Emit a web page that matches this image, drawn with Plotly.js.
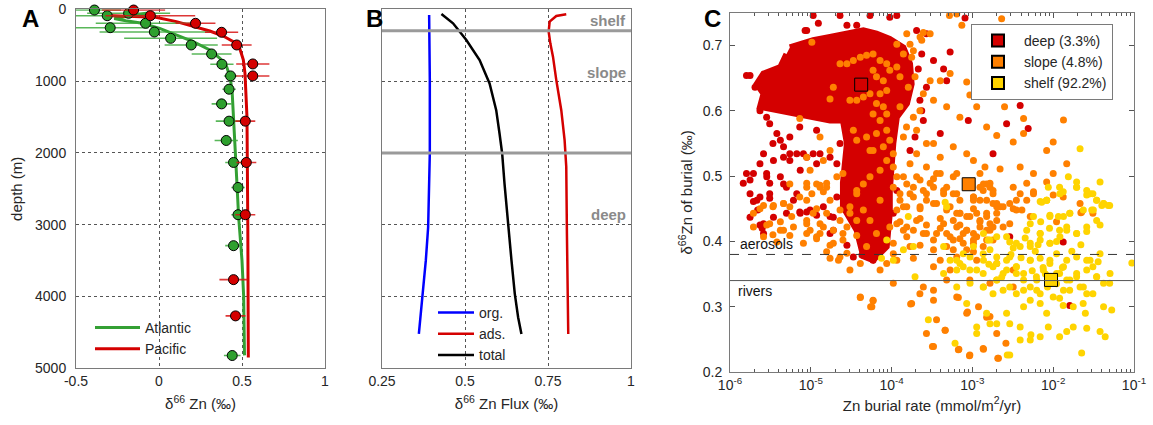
<!DOCTYPE html>
<html><head><meta charset="utf-8">
<script src="https://cdn.plot.ly/plotly-3.0.1.min.js"></script>
<style>html,body{margin:0;padding:0;background:#fff}#chart{width:1153px;height:425px}</style>
</head><body><div id="chart"></div>
<script>
// ---------- Panel A : observations ----------
const atlDepth = [10,56,89,195,256,316,404,497,622,765,928,1113,1317,1558,1827,2133,2481,2861,3292,4822];
const atlD66   = [-0.389,-0.183,-0.312,-0.081,-0.294,-0.028,0.07,0.194,0.317,0.379,0.431,0.422,0.377,0.422,0.405,0.449,0.476,0.476,0.449,0.441];
const atlErr   = [0.16,0.25,0.3,0.3,0.23,0.33,0.28,0.16,0.12,0.07,0.04,0.04,0.06,0.08,0.07,0.05,0.04,0.04,0.05,0.05];
const pacDepth = [10,89,195,320,497,761,928,1558,2133,2861,3765,4270];
const pacD66   = [-0.153,-0.052,0.22,0.377,0.468,0.565,0.565,0.52,0.526,0.52,0.449,0.461];
const pacErr   = [0.19,0.27,0.12,0.1,0.09,0.1,0.1,0.06,0.06,0.06,0.085,0.06];
// Panel A : model profiles
const atlModelDepth = [45,130,160,195,265,358,450,566,682,798,937,1122,1500,2000,2900,3500,4000,4820];
const atlModelD66   = [-0.05,-0.27,-0.2,-0.1,0.004,0.105,0.206,0.306,0.367,0.407,0.427,0.44,0.45,0.46,0.48,0.50,0.51,0.515];
const pacModelDepth = [85,112,172,232,302,372,450,557,705,891,1122,1500,3000,4850];
const pacModelD66   = [-0.32,-0.02,0.105,0.206,0.306,0.387,0.448,0.488,0.508,0.518,0.524,0.53,0.535,0.538];

// ---------- Panel B : flux composition ----------
const orgDepth = [79,986,2009,2381,3033,3498,3963,4521];
const orgD66   = [0.392,0.394,0.394,0.392,0.389,0.382,0.373,0.361];
const adsDepth = [70,93,172,312,474,660,986,1405,1823,2195,3126,3823,4521];
const adsD66   = [0.805,0.775,0.755,0.752,0.757,0.765,0.775,0.79,0.80,0.805,0.807,0.809,0.811];
const totDepth = [65,195,428,707,1033,1405,1730,2009,2428,3033,3498,3963,4288,4521];
const totD66   = [0.429,0.464,0.504,0.544,0.574,0.594,0.604,0.612,0.619,0.630,0.640,0.650,0.660,0.670];
const zoneBounds = [300, 2000];
const zoneNames  = ["shelf","slope","deep"];
const zoneLabelDepth = [158, 884, 2860];

// ---------- Panel C : burial ----------
const deepCoreRate = [5.5e-6,1.07e-5,1.73e-5,3.05e-5,4.47e-5,6.5e-5,9.5e-5,1.4e-4,1.69e-4,1.77e-4,1.55e-4,1.16e-4,1.05e-4,9.5e-5,9.5e-5,8.7e-5,5.9e-5,4.47e-5,3.7e-5,2.5e-5,2.5e-5,2.8e-5,2.5e-5,1.73e-5,1.07e-5,6.7e-6,3.4e-6,2.35e-6,2.6e-6,2.14e-6,2.6e-6,4.2e-6,5.0e-6];
const deepCoreD66  = [0.697,0.708,0.713,0.718,0.723,0.718,0.710,0.697,0.672,0.641,0.611,0.590,0.550,0.478,0.443,0.392,0.371,0.377,0.417,0.453,0.49,0.550,0.585,0.585,0.590,0.593,0.6006,0.606,0.626,0.641,0.657,0.667,0.687];
const deepPts = [[1.07e-5,0.746],[1.24e-5,0.734],[8.9e-6,0.723],[2.3e-5,0.746],[2.8e-5,0.731],[3.7e-5,0.731],[5.4e-5,0.746],[9.5e-5,0.743],[2.04e-4,0.723],[2.7e-4,0.718],[2.36e-4,0.687],[2.14e-4,0.664],[2.7e-4,0.636],[2.24e-4,0.616],[2.47e-4,0.585],[1.95e-4,0.560],[1.69e-4,0.539],[2.36e-4,0.600],[1.77e-6,0.654],[1.6e-6,0.654],[2.04e-6,0.636],[2.35e-6,0.600],[2.84e-6,0.590],[3.1e-6,0.580],[3.8e-6,0.565],[4.2e-6,0.555],[3.4e-6,0.550],[4.6e-6,0.545],[6.7e-6,0.534],[8.1e-6,0.534],[1.07e-5,0.534],[1.3e-5,0.534],[1.73e-5,0.529],[4.6e-6,0.529],[5.5e-6,0.524],[2.6e-6,0.534],[2.35e-6,0.519],[1.95e-6,0.504],[1.77e-6,0.494],[1.46e-6,0.489],[2.84e-6,0.504],[3.1e-6,0.489],[4.2e-6,0.499],[7.3e-6,0.575],[1.18e-5,0.570],[5.5e-6,0.560],[2.3e-5,0.550],[2.1e-5,0.519],[1.77e-6,0.473],[2.2e-6,0.448],[2.35e-6,0.468],[1.95e-6,0.461],[3.1e-6,0.466],[2.6e-6,0.427],[2.5e-6,0.420],[5.0e-6,0.483],[6.7e-6,0.473],[7.3e-6,0.445],[8.9e-6,0.445],[1.18e-5,0.440],[1.73e-5,0.438],[1.9e-5,0.417],[1.73e-5,0.412],[2.8e-5,0.394],[3.36e-5,0.376],[5.4e-5,0.392],[4.3e-5,0.379],[5.9e-5,0.371],[1.16e-4,0.478],[1.05e-4,0.443],[7.9e-5,0.399],[4.9e-5,0.405],[8.5e-6,0.723],[3.3e-4,0.677],[5.3e-4,0.690],[4.4e-4,0.664],[4.8e-4,0.646],[3.9e-3,0.608],[2.65e-3,0.580],[4.9e-3,0.573],[8.9e-4,0.585],[1.8e-3,0.534],[4e-4,0.565],[8.1e-4,0.742],[1.16e-4,0.746],[1.33e-2,0.399],[2.9e-3,0.407],[1.6e-2,0.302],
[1.6e-6,0.504],[2.85e-6,0.499],[3.1e-6,0.473],[2.15e-6,0.463],[1.77e-6,0.437],[3.45e-6,0.437],[5e-6,0.443],[7.4e-6,0.443],[9.8e-6,0.448],[6.1e-6,0.463],[4.6e-6,0.488],[7.4e-6,0.509],[1.18e-5,0.519],[3.45e-6,0.524],[5.5e-6,0.534],[8.9e-6,0.529],[2.6e-6,0.412],[2.35e-6,0.425],[1.43e-5,0.453],[2.1e-5,0.468],[1.9e-5,0.437]];
const slopePts = [[2.3e-5,0.672],[2.8e-5,0.672],[3.36e-5,0.677],[4.1e-5,0.682],[4.9e-5,0.685],[5.9e-5,0.687],[7.2e-5,0.677],[8.7e-5,0.672],[9.5e-5,0.662],[1.16e-4,0.667],[1.27e-4,0.652],[5.9e-5,0.662],[6.5e-5,0.652],[7.9e-5,0.646],[8.7e-5,0.631],[7.2e-5,0.626],[5.4e-5,0.626],[4.47e-5,0.621],[3.7e-5,0.616],[3.05e-5,0.616],[6.5e-5,0.611],[7.9e-5,0.606],[8.7e-5,0.595],[5.9e-5,0.595],[7.2e-5,0.585],[8.7e-5,0.570],[6.5e-5,0.565],[4.9e-5,0.560],[9.5e-5,0.555],[7.9e-5,0.545],[5.9e-5,0.539],[1.05e-4,0.534],[8.7e-5,0.524],[7.2e-5,0.509],[5.4e-5,0.499],[4.47e-5,0.488],[3.7e-5,0.478],[1.05e-4,0.514],[1.16e-4,0.499],[1.9e-5,0.636],[1.73e-5,0.618],[3.36e-5,0.570],[3.7e-5,0.555],[5.4e-5,0.539],[1.16e-4,0.702],[1.4e-4,0.687],[1.69e-4,0.702],[2.36e-4,0.708],[2.47e-4,0.720],[1.77e-4,0.682],[1.95e-4,0.652],[1.61e-4,0.636],[2.47e-4,0.626],[2.24e-4,0.600],[1.86e-4,0.590],[1.53e-4,0.575],[2.04e-4,0.570],[1.4e-4,0.560],[2.7e-4,0.550],[2.04e-4,0.534],[1.69e-4,0.519],[1.4e-4,0.499],[2.04e-4,0.499],[2.7e-4,0.514],[1.27e-4,0.606],[1.03e-5,0.705],[7.3e-6,0.588],[8.9e-6,0.529],[1.3e-5,0.560],[1.43e-5,0.524],[1.73e-5,0.539],[2.1e-5,0.499],[2.5e-5,0.504],[1.18e-5,0.488],[1.57e-5,0.483],[5.5e-6,0.488],[9.8e-6,0.509],
[1.95e-6,0.443],[2.6e-6,0.455],[3.4e-6,0.453],[4.6e-6,0.458],[3.1e-6,0.427],[4.2e-6,0.417],[3.4e-6,0.410],[5.8e-6,0.438],[8.9e-6,0.427],[9.8e-6,0.417],[1.18e-5,0.407],[1.43e-5,0.422],[1.07e-5,0.443],[1.73e-5,0.463],[1.3e-5,0.483],[8.9e-6,0.489],[7.3e-6,0.468],[1.9e-5,0.397],[2.5e-5,0.412],[1.73e-5,0.374],[2.2e-5,0.371],[2.8e-5,0.382],[3.05e-5,0.356],[4.1e-5,0.366],[4.1e-5,0.315],[5.9e-5,0.310],[5.7e-5,0.300],[7.2e-5,0.356],[8.7e-5,0.366],[1.16e-4,0.371],[1.05e-4,0.336],[1.77e-4,0.305],[2.47e-4,0.330],[2.24e-4,0.320],[1.69e-4,0.392],[1.4e-4,0.417],[1.16e-4,0.427],[2.04e-4,0.432],[2.47e-4,0.412],[2.7e-4,0.463],[1.69e-4,0.473],[1.4e-4,0.453],[7.2e-5,0.463],[5.4e-5,0.432],[6.5e-5,0.412],[4.47e-5,0.448],[3.05e-5,0.443],[3.7e-5,0.473],[2.3e-5,0.432],[1.57e-5,0.489],[3e-4,0.489],[2.47e-4,0.478],
[3.3e-4,0.483],[4.4e-4,0.473],[3.6e-4,0.458],[5.3e-4,0.453],[7e-4,0.443],[9.3e-4,0.438],[1.24e-3,0.432],[1.65e-3,0.427],[2e-3,0.443],[1.8e-3,0.458],[2.4e-3,0.453],[1.24e-3,0.463],[1.03e-3,0.468],[1.36e-3,0.478],[1.65e-3,0.489],[4.4e-4,0.427],[3.6e-4,0.412],[5.3e-4,0.407],[7.7e-4,0.412],[1.03e-3,0.402],[1.36e-3,0.392],[8.5e-4,0.387],[6.4e-4,0.376],[4e-4,0.371],[3.3e-4,0.361],[5.3e-4,0.356],[1.13e-3,0.371],[2e-3,0.366],[3.2e-3,0.356],[1.65e-3,0.336],[9.3e-4,0.341],[4.8e-4,0.341],[3.3e-4,0.325],[3.6e-4,0.280],[6.4e-4,0.315],[8.5e-4,0.290],[1.65e-3,0.285],[3.2e-3,0.330],[2e-3,0.259],[1.36e-3,0.236],[9.3e-4,0.226],[6.7e-4,0.234],[3.3e-4,0.239],[4.6e-4,0.264],[2.1e-3,0.221],[2.6e-3,0.244],[3.9e-3,0.473],[4.7e-3,0.489],[5.7e-3,0.476],[1e-2,0.471],[1.33e-2,0.468],[2.25e-2,0.445],[3.1e-2,0.443],[3.2e-3,0.450],[2.9e-3,0.427],[4.1e-3,0.448],
[5.2e-4,0.746],[6.4e-4,0.748],[7.4e-4,0.731],[2.3e-3,0.741],[1.54e-4,0.718],[2.25e-4,0.713],[3e-4,0.718],[1.86e-4,0.692],[3e-4,0.646],[4e-4,0.646],[5.3e-4,0.657],[8.5e-4,0.644],[1.19e-3,0.631],[1.37e-3,0.626],[9.3e-4,0.624],[3.3e-4,0.616],[4.8e-4,0.606],[7e-4,0.590],[1.13e-3,0.606],[1.5e-3,0.575],[2.8e-3,0.626],[2.5e-3,0.606],[4.3e-3,0.588],[1.34e-2,0.586],[2e-3,0.562],[3.2e-3,0.552],[4.3e-3,0.565],[1e-2,0.552],[8.3e-3,0.539],[1.47e-2,0.519],[1e-2,0.504],[8.3e-3,0.491],[5.7e-3,0.504],[3.9e-3,0.514],[2.2e-3,0.511],[1.43e-3,0.514],[8.5e-4,0.534],[5.8e-4,0.545],[4e-4,0.529],[3.3e-4,0.550],[3.6e-4,0.504],[4.8e-4,0.483],[6.4e-4,0.504],[1.03e-3,0.524],[1.37e-3,0.488],[1.8e-3,0.473],[3.2e-3,0.483],[5.7e-3,0.473],[1.03e-3,0.463],[2.2e-3,0.453],[3.5e-3,0.463],[2.15e-2,0.458],[1.86e-4,0.483],[1.27e-4,0.473],[2.25e-4,0.453],
[4.1e-5,0.314],[5.9e-5,0.309],[5.5e-5,0.300],[1.72e-4,0.304],[2.7e-4,0.259],[3.2e-4,0.239],[4.6e-4,0.264],[6.8e-4,0.235],[9.2e-4,0.225],[1.37e-3,0.235],[2.06e-3,0.221],[1.5e-3,0.284],[8.7e-4,0.292],[6.7e-4,0.314],[3.3e-4,0.310],[1.19e-3,0.300]];
const slopeBandPts = [[1.3e-5,0.486],[8.9e-6,0.483],[1.43e-5,0.476],[1.03e-5,0.473],[1.05e-4,0.483],[1.54e-4,0.488],[2.25e-4,0.494],[3.3e-4,0.496],[4e-4,0.504],[5.8e-4,0.499],[1.24e-3,0.504],[1.5e-3,0.488],[1.8e-3,0.478],[1.03e-3,0.468],[6.4e-4,0.473],[4.4e-4,0.478],[2.7e-4,0.473],[1.86e-4,0.468],[1.27e-4,0.463],
[2.35e-6,0.450],[3.45e-6,0.455],[4.6e-6,0.458],[5.5e-6,0.453],[8.9e-6,0.463],[1.18e-5,0.450],[1.57e-5,0.443],[2.3e-5,0.448],[3.05e-5,0.453],[1.16e-4,0.448],[1.54e-4,0.453],[2.25e-4,0.450],[3.3e-4,0.458],[4.8e-4,0.448],[7e-4,0.443],[1.03e-3,0.450],[1.5e-3,0.443],[2e-3,0.453],
[1.95e-6,0.422],[2.85e-6,0.425],[4.2e-6,0.430],[6.1e-6,0.422],[8.9e-6,0.432],[1.3e-5,0.427],[1.9e-5,0.417],[2.8e-5,0.422],[3.7e-5,0.432],[9.5e-5,0.422],[1.27e-4,0.430],[1.86e-4,0.417],[2.7e-4,0.425],[4e-4,0.420],[5.8e-4,0.432],[8.5e-4,0.417],[1.24e-3,0.430],[1.8e-3,0.422],
[2.6e-6,0.407],[3.8e-6,0.399],[5.5e-6,0.409],[8.1e-6,0.397],[1.18e-5,0.404],[1.73e-5,0.394],[2.5e-5,0.402],[3.7e-5,0.409],[4.9e-5,0.392],[1.05e-4,0.397],[1.54e-4,0.407],[2.25e-4,0.394],[3.3e-4,0.402],[4.8e-4,0.392],[7e-4,0.404],[1.03e-3,0.397],[1.5e-3,0.402],
[1.57e-5,0.384],[2.3e-5,0.376],[1.05e-4,0.381],[1.86e-4,0.374],[4.8e-4,0.412],[2.7e-4,0.412],[1.54e-4,0.422],[1.03e-3,0.412],[7e-4,0.425],[4e-4,0.435],[2.25e-4,0.435],[1.5e-3,0.417],[3.3e-4,0.387],[5.8e-4,0.387],[1.03e-3,0.384],[8.9e-6,0.412],[1.3e-5,0.412],[4.6e-6,0.417],
[5.8e-4,0.473],[7e-4,0.463],[6.4e-4,0.443],[8.5e-4,0.438],[1.13e-3,0.443],[1.5e-3,0.438],[2e-3,0.432],[6.4e-4,0.422],[8.5e-4,0.417],[1.24e-3,0.422],[1.65e-3,0.417],[2.4e-3,0.422],[5.8e-4,0.402],[7.7e-4,0.397],[1.13e-3,0.407],[1.8e-3,0.402],[1.5e-3,0.463],[2e-3,0.458],[2.9e-3,0.458],[3.5e-3,0.448],[1.24e-3,0.483],[1.65e-3,0.483],[4.7e-3,0.463],[5.2e-3,0.438],[1.1e-2,0.43],[2.2e-2,0.444]];
const shelfPts = [[8.7e-3,0.483],[1.33e-2,0.476],[1.95e-2,0.483],[2.6e-2,0.471],[3.45e-2,0.463],[4e-2,0.455],[5e-2,0.455],[3e-2,0.448],[1.6e-2,0.443],[1.16e-2,0.438],[9.1e-3,0.440],[6.9e-3,0.461],[8.3e-3,0.463],[5.2e-3,0.427],[6.9e-3,0.412],[9.1e-3,0.397],[1.2e-2,0.417],[1.47e-2,0.422],[1.95e-2,0.412],[2.6e-2,0.415],[3.8e-2,0.425],[5.2e-3,0.397],[3.9e-3,0.392],[2.9e-3,0.399],[2e-3,0.407],[1.57e-3,0.402],[1.36e-3,0.381],[2e-3,0.376],[2.65e-3,0.371],[3.5e-3,0.361],[5.2e-3,0.371],[6.9e-3,0.374],[9.1e-3,0.371],[1.1e-2,0.381],[1.47e-2,0.371],[1.95e-2,0.376],[2.6e-2,0.371],[3.6e-2,0.369],[3.8e-2,0.381],[3.1e-2,0.361],[1.95e-2,0.346],[2.6e-2,0.356],[1.47e-2,0.341],[1.2e-2,0.351],[6.2e-3,0.346],[4.3e-3,0.341],[3.5e-3,0.351],[2.65e-3,0.356],[1.8e-3,0.361],[1.36e-3,0.351],[9.3e-4,0.356],[7e-4,0.366],[5.3e-4,0.371],[4.4e-4,0.392],[7.7e-4,0.381],[1.03e-3,0.392],[6.4e-4,0.356],[4.4e-4,0.351],[2e-3,0.341],[1.36e-3,0.330],[1.8e-3,0.320],[2.4e-3,0.325],[3.5e-3,0.320],[5.2e-3,0.330],[6.9e-3,0.320],[5.2e-3,0.310],[4.3e-3,0.300],[6.9e-3,0.305],[1e-2,0.315],[1.2e-2,0.313],[1.6e-2,0.325],[2.15e-2,0.330],[2.6e-2,0.320],[2.35e-2,0.305],[1.77e-2,0.300],[1.33e-2,0.302],[3.1e-2,0.320],[4.2e-2,0.300],[5.3e-2,0.295],[5e-2,0.336],[3.45e-2,0.346],[2.5e-2,0.290],[1.77e-2,0.269],[2.6e-2,0.267],[3.8e-2,0.262],[4.4e-2,0.254],[2.25e-2,0.229],[1.47e-2,0.262],[1.2e-2,0.254],[8.3e-3,0.290],[8.7e-3,0.269],[6.9e-3,0.254],[5.2e-3,0.249],[3.9e-3,0.269],[2.9e-3,0.274],[2e-3,0.274],[1.65e-3,0.274],[1.5e-3,0.290],[1.13e-3,0.269],[1.13e-3,0.259],[8.5e-4,0.305],[6.1e-4,0.244],[2.65e-3,0.290],[2.7e-3,0.226],[2.9e-3,0.226],[3.9e-3,0.249],[5.3e-3,0.257],
[7.5e-5,0.374],[1.05e-4,0.371],[1.4e-4,0.387],[1.86e-4,0.392],[1.61e-4,0.438],[1.95e-4,0.346],[2.85e-4,0.280],[8.7e-5,0.402],
[2.15e-2,0.542],[1.54e-2,0.499],[1.95e-2,0.491],[3.8e-2,0.491],[1.2e-2,0.483],[2.6e-2,0.478],[3.1e-2,0.473],[3.45e-2,0.463],[4.2e-2,0.458],[4.8e-2,0.455],[8.3e-3,0.463],[7.2e-3,0.460],[4.6e-4,0.460],[4.8e-4,0.453],[5.7e-3,0.438],[9.4e-2,0.367],
[3e-3,0.38],[4e-3,0.375],[6e-3,0.385],[7.5e-3,0.36],[8e-3,0.35],[1e-2,0.345],[1.1e-2,0.335],[8.5e-3,0.33],[5.5e-3,0.355],[2.3e-3,0.345],[1.6e-3,0.365],[3.2e-3,0.39],[4.5e-3,0.405],[6.5e-3,0.395],[1.3e-2,0.36],[1.7e-2,0.385],[2.2e-2,0.395],[9e-3,0.42],[1.1e-2,0.4],[7e-3,0.43]];
const shelfBandPts = [[6.4e-4,0.371],[7.7e-4,0.361],[9.35e-4,0.376],[1.13e-3,0.356],[1.37e-3,0.371],[1.65e-3,0.387],[2e-3,0.366],[2.4e-3,0.351],[2.9e-3,0.376],[3.5e-3,0.361],[4.3e-3,0.351],[5.2e-3,0.371],[6.25e-3,0.341],[7.55e-3,0.356],[9.1e-3,0.366],[1.1e-2,0.351],[1.34e-2,0.361],[1.61e-2,0.341],[1.95e-2,0.351],[6.4e-4,0.330],[9.35e-4,0.336],[1.37e-3,0.330],[2e-3,0.341],[2.9e-3,0.330],[4.3e-3,0.325],[6.25e-3,0.325],[1.34e-2,0.325],[2.36e-2,0.330],[2.86e-2,0.371],[3.45e-2,0.346],[4.2e-2,0.336],[5.05e-2,0.351],[3.5e-3,0.397],[5.2e-3,0.392],[6.9e-3,0.402],[9.1e-3,0.397],[1.21e-2,0.407],[1.47e-2,0.417],[1.95e-2,0.412],[2.6e-2,0.422],[3.45e-2,0.432],[9.1e-3,0.438],[1.34e-2,0.438],[1.61e-2,0.443],[2.36e-2,0.448],[3.14e-2,0.448],[4.2e-2,0.458],[2.86e-2,0.473],[1.95e-2,0.483],[1.21e-2,0.473],[8.3e-3,0.463],[6.9e-3,0.412],[4.7e-3,0.417],[2.65e-3,0.407],[1.65e-3,0.402],[1.37e-3,0.412]];
const meanRate = [4.2e-5, 9.0e-4, 9.4e-3];
const meanD66  = [0.640, 0.4875, 0.341];
const envNames = ["deep (3.3%)", "slope (4.8%)", "shelf (92.2%)"];
const envColors = ["#d40000", "#ff8000", "#ffd400"];
const refLevels = [0.38, 0.34];
const refNames = ["aerosols", "rivers"];
const rateTicks = [1e-6,1e-5,1e-4,1e-3,1e-2,1e-1];
const rateTickText = ["10<sup>-6</sup>","10<sup>-5</sup>","10<sup>-4</sup>","10<sup>-3</sup>","10<sup>-2</sup>","10<sup>-1</sup>"];

// ---------- build ----------
const FONT = "Liberation Sans, Arial, sans-serif";
const GREEN = "rgb(52,160,52)", RED = "#d40000";
const px = a => a.map(p => p[0]), py = a => a.map(p => p[1]);
const slopeAll = slopePts.concat(slopeBandPts);
const shelfAll = shelfPts.concat(shelfBandPts);
const DOT = 7;

const traces = [
  {x: atlModelD66, y: atlModelDepth, xaxis:'x', yaxis:'y', mode:'lines', name:'Atlantic', legend:'legend',
   line:{color:GREEN, width:3}},
  {x: pacModelD66, y: pacModelDepth, xaxis:'x', yaxis:'y', mode:'lines', name:'Pacific', legend:'legend',
   line:{color:RED, width:3}},
  {x: atlD66, y: atlDepth, xaxis:'x', yaxis:'y', mode:'markers', showlegend:false, cliponaxis:false,
   error_x:{type:'data', array: atlErr, color:'rgba(60,170,60,0.85)', thickness:1.6, width:0},
   marker:{color:'rgb(46,160,46)', size:10, line:{color:'#000', width:1}}},
  {x: pacD66, y: pacDepth, xaxis:'x', yaxis:'y', mode:'markers', showlegend:false, cliponaxis:false,
   error_x:{type:'data', array: pacErr, color:'rgba(215,20,20,0.85)', thickness:1.6, width:0},
   marker:{color:RED, size:10, line:{color:'#000', width:1}}},

  {x: orgD66, y: orgDepth, xaxis:'x2', yaxis:'y2', mode:'lines', name:'org.', legend:'legend2', line:{color:'#0000ff', width:2.5}},
  {x: adsD66, y: adsDepth, xaxis:'x2', yaxis:'y2', mode:'lines', name:'ads.', legend:'legend2', line:{color:'#d40000', width:2.5}},
  {x: totD66, y: totDepth, xaxis:'x2', yaxis:'y2', mode:'lines', name:'total', legend:'legend2', line:{color:'#000', width:2.5}},

  {x: deepCoreRate, y: deepCoreD66, xaxis:'x3', yaxis:'y3', mode:'lines', fill:'toself', fillcolor:envColors[0],
   line:{color:envColors[0], width:6}, showlegend:false, hoverinfo:'skip'},
  {x: px(deepPts), y: py(deepPts), xaxis:'x3', yaxis:'y3', mode:'markers', showlegend:false,
   marker:{color:envColors[0], size:DOT}},
  {x: px(slopeAll), y: py(slopeAll), xaxis:'x3', yaxis:'y3', mode:'markers', showlegend:false,
   marker:{color:envColors[1], size:DOT}},
  {x: px(shelfAll), y: py(shelfAll), xaxis:'x3', yaxis:'y3', mode:'markers', showlegend:false,
   marker:{color:envColors[2], size:DOT}},
];
for (let i = 0; i < 3; i++) {
  traces.push({x:[meanRate[i]], y:[meanD66[i]], xaxis:'x3', yaxis:'y3', mode:'markers', name: envNames[i], legend:'legend3',
    marker:{symbol:'square', color: envColors[i], size:13, line:{color:'#000', width:1}}});
}

const tickFont = {family: FONT, size: 14, color:'#262626'};
const titleFont = {family: FONT, size: 15, color:'#262626'};
const boxAxis = {showline:true, linecolor:'#7a7a7a', linewidth:1, mirror:true, zeroline:false, tickfont:tickFont};
const dotGrid = {showgrid:true, gridcolor:'#555', griddash:'dot', gridwidth:1};

const shapes = [];
zoneBounds.forEach(d => shapes.push({type:'line', xref:'x2 domain', yref:'y2', x0:0, x1:1, y0:d, y1:d,
  line:{color:'#9a9a9a', width:3}}));
shapes.push({type:'line', xref:'x3 domain', yref:'y3', x0:0, x1:1, y0:refLevels[0], y1:refLevels[0], line:{color:'#333', width:1, dash:'dash'}});
shapes.push({type:'line', xref:'x3 domain', yref:'y3', x0:0, x1:1, y0:refLevels[1], y1:refLevels[1], line:{color:'#555', width:1}});

const annotations = [
  {text:'<b>A</b>', xref:'paper', yref:'paper', x:20/1153, y:1-19/425, yanchor:'middle', showarrow:false, font:{family:FONT, size:24, color:'#000'}},
  {text:'<b>B</b>', xref:'paper', yref:'paper', x:364/1153, y:1-19/425, yanchor:'middle', showarrow:false, font:{family:FONT, size:24, color:'#000'}},
  {text:'<b>C</b>', xref:'paper', yref:'paper', x:712/1153, y:1-19/425, yanchor:'middle', showarrow:false, font:{family:FONT, size:24, color:'#000'}},
];
zoneNames.forEach((n, i) => annotations.push({text:'<b>'+n+'</b>', xref:'x2', yref:'y2', x:0.99, y:zoneLabelDepth[i],
  xanchor:'right', showarrow:false, font:{family:FONT, size:15, color:'#8a8a8a'}}));
annotations.push({text:refNames[0], xref:'x3', yref:'y3', x:-5.9, y:refLevels[0], yanchor:'bottom', xanchor:'left', showarrow:false, font:{family:FONT, size:14, color:'#111'}});
annotations.push({text:refNames[1], xref:'x3', yref:'y3', x:-5.92, y:refLevels[1], yanchor:'top', xanchor:'left', showarrow:false, font:{family:FONT, size:14, color:'#111'}});

const layout = {
  width:1153, height:425, margin:{l:0, r:0, t:0, b:0}, paper_bgcolor:'#fff', plot_bgcolor:'#fff',
  font:{family:FONT}, showlegend:true,
  xaxis: Object.assign({}, boxAxis, dotGrid, {domain:[76/1153, 325/1153], anchor:'y', range:[-0.5,1],
    tickvals:[-0.5,0,0.5,1], ticktext:['-0.5','0','0.5','1'], ticks:'',
    title:{text:'δ<sup>66</sup> Zn (‰)', font:titleFont, standoff:10}}),
  yaxis: Object.assign({}, boxAxis, dotGrid, {domain:[1-368.3/425, 1-9.3/425], anchor:'x', range:[5000,0],
    tickvals:[0,1000,2000,3000,4000,5000], ticks:'', ticklabelstandoff:6,
    title:{text:'depth (m)', font:titleFont, standoff:8}}),
  xaxis2: Object.assign({}, boxAxis, dotGrid, {domain:[382/1153, 631/1153], anchor:'y2', range:[0.25,1],
    tickvals:[0.25,0.5,0.75,1], ticktext:['0.25','0.5','0.75','1'], ticks:'',
    title:{text:'δ<sup>66</sup> Zn Flux (‰)', font:titleFont, standoff:10}}),
  yaxis2: Object.assign({}, boxAxis, dotGrid, {domain:[1-368.3/425, 1-9.3/425], anchor:'x2', range:[5000,0],
    tickvals:[1000,2000,3000,4000], showticklabels:false, ticks:''}),
  xaxis3: Object.assign({}, boxAxis, {domain:[730/1153, 1134/1153], anchor:'y3', type:'log', range:[-6,-1],
    tickvals:rateTicks, ticktext:rateTickText, ticks:'inside', ticklen:5, tickcolor:'#555', mirror:'allticks', showgrid:false,
    minor:{ticks:'inside', ticklen:3, tickcolor:'#555', dtick:'D1', showgrid:false},
    title:{text:'Zn burial rate (mmol/m<sup>2</sup>/yr)', font:titleFont, standoff:8}}),
  yaxis3: Object.assign({}, boxAxis, {domain:[1-372/425, 1-12.8/425], anchor:'x3', range:[0.2,0.75],
    tickvals:[0.2,0.3,0.4,0.5,0.6,0.7], ticks:'inside', ticklen:5, tickcolor:'#555', mirror:'allticks', showgrid:false,
    ticklabelstandoff:4,
    title:{text:'δ<sup>66</sup>Zn of burial (‰)', font:titleFont, standoff:6}}),
  legend: {x:90/1153, y:1-312/425, xanchor:'left', yanchor:'top', bgcolor:'rgba(0,0,0,0)', borderwidth:0,
    font:{family:FONT, size:14, color:'#262626'}, itemwidth:45},
  legend2: {x:433/1153, y:1-297/425, xanchor:'left', yanchor:'top', bgcolor:'rgba(0,0,0,0)', borderwidth:0,
    font:{family:FONT, size:14, color:'#262626'}, itemwidth:36},
  legend3: {x:971/1153, y:1-24/425, xanchor:'left', yanchor:'top', bgcolor:'#fff', bordercolor:'#7a7a7a', borderwidth:1,
    font:{family:FONT, size:14, color:'#262626'}, itemsizing:'constant', itemwidth:42},
  shapes: shapes, annotations: annotations
};
Plotly.newPlot('chart', traces, layout, {staticPlot:true, displayModeBar:false});
</script></body></html>
